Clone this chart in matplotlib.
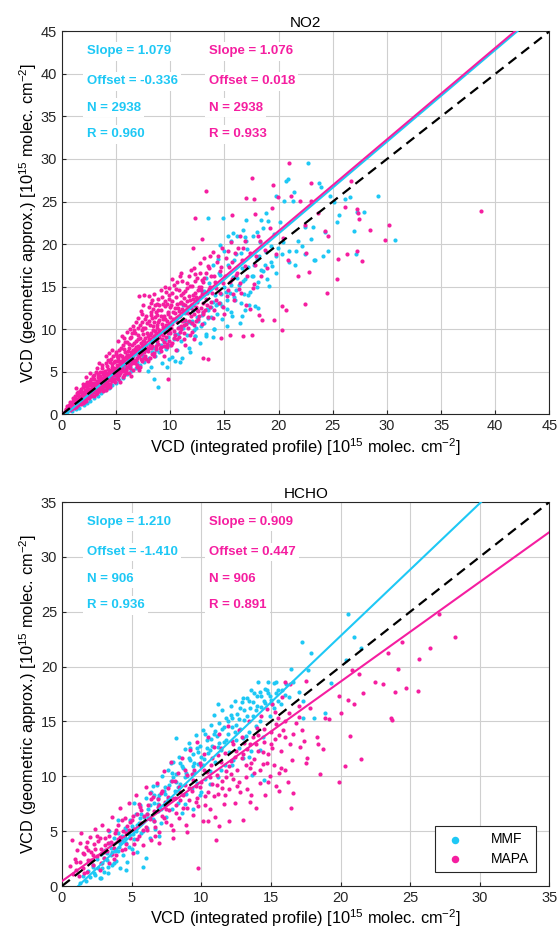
import matplotlib
matplotlib.use("Agg")
import matplotlib.pyplot as plt

plt.rcParams['font.family'] = ['Liberation Sans', 'DejaVu Sans']
plt.rcParams['mathtext.fontset'] = 'custom'
plt.rcParams['mathtext.rm'] = 'Liberation Sans'
plt.rcParams['mathtext.it'] = 'Liberation Sans:italic'
plt.rcParams['mathtext.bf'] = 'Liberation Sans:bold'

CYAN = '#1ec8f5'
MAGENTA = '#f51ea0'

# ---- NO2 panel ----
no2_mmf = [
    (0.5, 0.3), (0.7, 0.6), (0.9, 0.4), (1.1, 0.9), (1.3, 0.6), (1.5, 1.2), (1.6, 0.8), (1.8, 1.4), (2.0, 1.1),
    (2.1, 1.8), (2.3, 1.3), (2.5, 2.0), (2.6, 1.6), (2.8, 2.4), (3.0, 1.9), (3.1, 2.8), (3.3, 2.2), (3.5, 3.1),
    (3.6, 2.5), (3.8, 3.4), (4.0, 2.8), (4.1, 3.8), (4.3, 3.1), (4.5, 4.2), (4.6, 3.4), (4.8, 4.5), (5.0, 3.7),
    (5.1, 4.9), (5.3, 4.0), (5.5, 5.3), (5.6, 4.3), (5.8, 5.6), (6.0, 4.7), (6.2, 6.0), (6.4, 5.1), (6.6, 6.4),
    (6.8, 5.4), (7.0, 6.8), (7.2, 5.8), (7.4, 7.2), (7.6, 6.2), (7.8, 7.5), (8.0, 6.6), (8.2, 5.6), (8.4, 7.8),
    (8.6, 6.9), (8.8, 8.3), (9.0, 7.3), (9.2, 6.0), (9.4, 8.6), (9.6, 7.7), (9.8, 9.1), (10.0, 8.1),
    (1.5, 1.5), (2.5, 2.6), (3.5, 3.7), (4.5, 4.8), (5.5, 5.9), (6.5, 7.0), (7.5, 8.1), (8.5, 9.2), (9.5, 10.2),
    (10.5, 11.2), (11.5, 12.3),
    (10.2, 6.7), (10.4, 9.4), (10.6, 7.5), (10.8, 10.3), (11.0, 8.6), (11.1, 6.6), (11.3, 11.0), (11.5, 9.3),
    (11.7, 7.8), (11.9, 10.7), (12.1, 12.2), (12.3, 9.2), (12.5, 11.4), (12.6, 13.6), (12.8, 10.4), (13.0, 12.0),
    (13.1, 14.5), (13.3, 9.4), (13.5, 11.3), (13.6, 15.4), (13.8, 12.6), (14.0, 10.0), (14.1, 14.0), (14.3, 11.8),
    (14.5, 16.6), (14.6, 13.1), (14.8, 11.2), (15.0, 15.0), (15.2, 12.4), (15.3, 17.6), (15.5, 14.2), (15.7, 11.6),
    (15.8, 16.1), (16.0, 13.4), (16.1, 18.8), (16.3, 15.2), (16.4, 10.7), (16.6, 17.2), (16.8, 14.1), (16.9, 20.8),
    (17.1, 19.4), (17.3, 12.9), (17.5, 16.3), (17.6, 21.0), (17.8, 12.7), (18.0, 18.3), (18.1, 15.6), (18.3, 20.2),
    (18.4, 22.8), (18.6, 16.8), (18.8, 19.1), (19.0, 22.7), (19.1, 15.1), (19.3, 17.9), (19.6, 21.2), (19.8, 18.6),
    (20.1, 22.6), (20.5, 25.1), (20.7, 27.4), (20.9, 27.7), (21.0, 19.2), (21.3, 25.1), (21.4, 26.1), (21.5, 17.6),
    (21.8, 20.4), (22.2, 19.8), (22.4, 22.0), (22.7, 29.5), (23.2, 22.05), (23.3, 18.15), (23.4, 18.1), (23.7, 27.2),
    (23.95, 26.7), (24.1, 18.65), (24.3, 21.4), (24.55, 19.2), (24.7, 25.6), (25.1, 25.0), (25.4, 22.55),
    (25.6, 23.4), (26.1, 25.25), (26.6, 25.5), (27.0, 21.5), (27.1, 18.8), (27.25, 23.8), (27.85, 23.8),
    (29.2, 25.7), (30.7, 20.45),
    (8.5, 4.1), (8.85, 3.2), (10.4, 6.25), (11.4, 11.9), (18.1, 12.5), (13.45, 23.1), (14.9, 23.1), (15.8, 21.3),
    (17.0, 22.8), (18.85, 23.6), (19.75, 25.7), (14.0, 10.0), (13.3, 9.2), (12.3, 9.2), (15.9, 13.8), (16.6, 11.6),
    (3.2, 2.6), (3.9, 3.1), (4.4, 3.5), (5.2, 4.5), (5.9, 5.0), (6.3, 5.6), (6.9, 6.2), (7.5, 6.8), (7.9, 5.1),
    (8.3, 7.3), (8.7, 7.6), (9.1, 8.1), (9.5, 8.7), (9.9, 6.5), (10.3, 8.8), (10.7, 9.4), (11.2, 10.1),
    (11.6, 10.8), (12.0, 11.0), (12.4, 10.2), (12.9, 11.7), (13.4, 12.4), (13.9, 13.2), (14.2, 12.9),
    (14.7, 14.1), (15.1, 14.4), (15.6, 15.2), (16.2, 16.0), (16.7, 15.7), (17.2, 17.3), (17.7, 17.6),
    (18.2, 18.6), (18.7, 17.6), (19.3, 19.8), (19.9, 19.5), (20.4, 20.3), (13.9, 17.6), (14.4, 18.3),
    (15.0, 19.2), (15.6, 20.4), (16.2, 20.9), (16.7, 21.6), (14.6, 19.9), (15.3, 21.0), (12.7, 8.4),
    (11.8, 7.3), (10.9, 6.2), (9.7, 5.6), (13.9, 9.1), (15.2, 10.4), (16.9, 12.2), (17.4, 14.4),
    (12.2, 9.9), (12.6, 11.0), (13.1, 10.7), (13.5, 12.2), (13.8, 11.4), (14.3, 13.0), (14.8, 12.7), (15.2, 13.4),
    (15.6, 12.0), (16.1, 14.6), (16.5, 13.1), (16.9, 15.9), (17.2, 14.0), (17.6, 16.2), (18.0, 15.0), (18.4, 17.0),
    (18.9, 15.9), (19.4, 17.4), (19.8, 16.6), (20.3, 18.8), (21.0, 17.9), (21.6, 19.2), (22.4, 18.8), (23.0, 20.6),
    (11.2, 12.9), (12.9, 14.5), (13.3, 16.0), (14.6, 16.4), (15.9, 18.1), (16.5, 19.0), (17.0, 20.4), (18.0, 21.4),
    (18.6, 21.9),
]

no2_mapa = [
    (0.4, 0.6), (0.6, 0.9), (0.7, 0.5), (0.8, 1.3), (0.9, 0.8), (1.0, 1.6), (1.1, 1.0), (1.2, 2.1), (1.2, 1.4),
    (1.3, 0.9), (1.4, 1.8), (1.5, 2.6), (1.5, 1.2), (1.6, 2.2), (1.7, 1.5), (1.8, 3.0), (1.8, 2.0), (1.9, 1.3),
    (2.0, 2.6), (2.0, 1.7), (2.1, 3.3), (2.1, 2.2), (2.2, 1.6), (2.3, 2.9), (2.3, 3.8), (2.4, 2.4), (2.5, 1.9),
    (2.5, 3.4), (2.6, 2.8), (2.7, 4.2), (2.7, 2.2), (2.8, 3.1), (2.9, 3.7), (2.9, 2.6), (3.0, 4.6), (3.0, 3.2),
    (3.1, 2.4), (3.2, 3.9), (3.2, 2.9), (3.3, 4.4), (3.3, 3.4), (3.4, 2.7), (3.5, 5.0), (3.5, 3.8), (3.6, 3.0),
    (3.6, 4.3), (3.7, 3.5), (3.7, 5.4), (3.8, 2.9), (3.8, 4.7), (3.9, 4.0), (3.9, 3.3), (4.0, 5.1), (4.0, 3.7),
    (4.1, 4.4), (4.1, 2.9), (4.2, 5.7), (4.2, 3.4), (4.3, 4.8), (4.3, 4.0), (4.4, 6.2), (4.4, 3.6), (4.5, 5.2),
    (4.5, 4.5), (4.6, 3.9), (4.6, 5.9), (4.7, 4.9), (4.7, 6.8), (4.8, 4.2), (4.8, 5.5), (4.9, 3.8), (4.9, 6.3),
    (5.0, 5.0), (5.0, 7.1), (5.1, 4.5), (5.1, 5.8), (5.2, 6.6), (5.2, 4.1), (5.3, 5.3), (5.3, 7.5), (5.4, 6.0),
    (5.4, 4.8), (5.5, 6.9), (5.5, 5.6), (5.6, 4.4), (5.6, 8.1), (5.7, 6.3), (5.7, 5.1), (5.8, 7.3), (5.8, 5.9),
    (5.9, 4.9), (5.9, 6.7), (6.0, 8.5), (6.0, 5.6), (6.1, 7.0), (6.1, 6.2), (6.2, 4.8), (6.2, 7.8), (6.3, 6.6),
    (6.3, 5.5), (6.4, 9.1), (6.4, 7.3), (6.5, 6.0), (6.5, 8.2), (6.6, 6.9), (6.6, 5.2), (6.7, 7.7), (6.7, 9.6),
    (6.8, 6.4), (6.8, 8.6), (6.9, 7.2), (6.9, 5.8), (7.0, 8.0), (7.0, 10.2), (7.1, 6.8), (7.1, 7.6), (7.2, 9.0),
    (7.2, 5.6), (7.3, 8.4), (7.3, 7.1), (7.4, 10.8), (7.4, 6.3), (7.5, 9.4), (7.5, 7.9), (7.6, 14.0), (7.6, 8.6),
    (7.7, 6.9), (7.7, 10.1), (7.8, 8.2), (7.8, 11.5), (7.9, 7.4), (7.9, 9.2), (8.0, 13.9), (8.0, 8.8),
    (8.1, 10.5), (8.1, 6.6), (8.2, 9.6), (8.2, 7.8), (8.3, 11.3), (8.3, 8.5), (8.4, 12.4), (8.4, 9.9), (8.5, 7.2),
    (8.5, 10.9), (8.6, 8.9), (8.6, 12.9), (8.7, 9.5), (8.7, 7.7), (8.8, 11.7), (8.8, 10.2), (8.9, 8.3), (8.9, 13.5),
    (9.0, 9.9), (9.0, 11.1), (9.1, 7.4), (9.1, 12.2), (9.2, 10.6), (9.2, 8.8), (9.3, 9.3), (9.3, 13.0), (9.4, 11.6),
    (9.4, 8.0), (9.5, 10.0), (9.5, 12.7), (9.6, 9.1), (9.6, 14.4), (9.7, 11.0), (9.7, 7.9), (9.8, 12.0), (9.8, 10.3),
    (9.9, 8.6), (9.9, 13.6), (10.0, 11.4), (10.0, 9.6), (10.1, 12.8), (10.2, 10.6), (10.2, 8.4), (10.3, 15.2),
    (10.4, 11.9), (10.4, 9.3), (10.5, 13.8), (10.6, 10.9), (10.7, 12.5), (10.8, 9.1), (10.8, 14.6), (10.9, 11.6),
    (11.0, 13.2), (11.0, 10.0), (11.1, 15.7), (11.2, 12.0), (11.3, 8.9), (11.3, 13.7), (11.4, 11.1), (11.5, 14.8),
    (11.6, 12.6), (11.6, 10.2), (11.7, 16.3), (11.8, 13.4), (11.9, 11.5), (12.0, 15.1), (12.0, 9.7), (12.1, 12.9),
    (12.2, 17.2), (12.3, 14.2), (12.4, 11.0), (12.5, 13.6), (12.5, 16.0), (12.6, 12.1), (12.7, 17.8), (12.8, 14.6),
    (12.9, 10.6), (13.0, 15.5), (13.0, 13.1), (13.1, 18.4), (13.2, 12.2), (13.3, 16.6), (13.4, 14.3), (13.5, 11.4),
    (13.6, 17.2), (13.7, 15.0), (13.8, 13.2), (13.9, 19.1), (14.0, 16.2), (14.0, 12.3), (14.2, 14.8), (14.3, 17.9),
    (14.5, 13.1), (14.6, 16.8), (14.8, 19.6), (14.9, 15.4), (15.0, 11.8), (15.1, 18.4), (15.3, 14.6), (15.4, 17.3),
    (15.6, 20.3), (15.7, 15.9), (15.9, 13.4), (16.0, 18.9), (16.2, 16.6), (16.4, 21.0), (16.5, 14.3), (16.7, 19.6),
    (16.9, 17.4), (17.0, 12.8),
    (3.2, 5.4), (4.1, 6.9), (5.5, 9.2), (6.3, 10.0), (7.3, 12.1), (8.5, 14.1), (9.1, 14.6), (2.2, 4.4), (1.3, 3.1),
    (0.35, 0.45), (0.55, 0.75), (0.65, 1.15), (0.85, 0.65), (0.95, 1.35), (1.05, 1.9), (1.15, 0.75), (1.25, 1.65),
    (1.35, 2.45), (1.45, 1.05), (1.55, 1.95), (1.65, 2.75), (1.75, 1.25), (1.85, 2.35), (1.95, 3.25), (2.05, 1.45),
    (2.15, 2.65), (2.25, 3.55), (2.35, 1.95), (2.45, 2.95), (2.55, 3.95), (2.65, 2.45), (2.75, 3.35), (2.85, 4.55),
    (2.95, 2.15), (3.05, 3.65), (3.15, 4.95), (3.25, 2.55), (3.35, 3.05), (3.45, 4.15), (3.55, 3.35), (3.65, 5.75),
    (3.75, 2.75), (3.85, 4.45), (3.95, 3.75), (4.05, 6.05), (4.15, 3.15), (4.25, 5.35), (4.35, 4.45), (4.45, 3.25),
    (4.55, 6.55), (4.65, 4.15), (4.75, 5.25), (4.85, 4.75), (4.95, 7.35), (5.05, 4.25), (5.15, 6.25), (5.25, 5.05),
    (5.35, 3.85), (5.45, 7.85), (5.55, 5.05), (5.65, 6.65), (5.75, 4.65), (5.85, 8.45), (5.95, 5.35), (6.05, 7.45),
    (6.15, 5.85), (6.25, 8.95), (6.35, 4.55), (6.45, 6.35), (6.55, 7.55), (6.65, 9.95), (6.75, 6.05), (6.85, 7.95),
    (6.95, 6.65), (7.05, 9.35), (7.15, 5.25), (7.25, 7.35), (7.35, 9.85), (7.45, 8.65), (7.55, 6.65), (7.65, 11.25),
    (7.75, 7.65), (7.85, 9.55), (7.95, 6.25), (8.05, 10.95), (8.15, 8.15), (8.25, 12.05), (8.35, 7.05), (8.45, 9.25),
    (8.55, 11.45), (8.65, 8.05), (8.75, 10.55), (8.85, 12.25), (8.95, 9.05), (9.05, 7.85), (9.15, 11.55),
    (9.25, 13.75), (9.35, 10.25), (9.45, 8.45), (9.55, 11.25), (9.65, 12.95), (9.75, 9.55), (9.85, 14.05),
    (9.95, 10.65), (10.05, 8.15), (10.15, 13.35), (10.25, 11.15), (10.35, 9.75), (10.45, 12.45), (10.55, 14.75),
    (10.65, 8.85), (10.75, 11.45), (10.85, 13.05), (10.95, 10.35), (11.05, 12.35), (11.15, 14.25), (11.25, 9.55),
    (11.35, 12.85), (11.45, 10.65), (11.55, 15.45), (11.65, 11.95), (11.75, 13.95), (11.85, 9.35), (11.95, 12.45),
    (12.05, 14.05), (12.15, 10.45), (12.25, 15.65), (12.35, 12.65), (12.45, 13.15), (12.55, 11.25), (12.65, 14.95),
    (12.75, 16.55), (12.85, 12.45), (12.95, 14.15), (13.05, 11.75), (13.15, 16.05), (13.25, 13.55), (13.35, 12.85),
    (13.45, 17.45), (13.55, 14.75), (13.65, 12.65), (13.75, 16.25), (13.85, 14.25), (13.95, 11.35), (14.1, 15.6),
    (14.25, 13.4), (14.4, 18.6), (14.55, 14.2), (14.7, 17.3), (14.85, 12.6), (15.05, 16.2), (15.2, 13.9),
    (15.35, 19.2), (15.5, 15.6), (15.65, 17.9), (15.8, 14.1), (16.05, 16.4), (16.25, 19.5), (16.45, 15.4),
    (16.6, 18.1), (16.85, 20.4), (17.1, 16.2), (17.35, 19.0), (17.6, 14.8), (17.85, 17.6), (18.1, 20.9),
    (18.4, 16.3), (18.7, 19.3), (7.0, 11.3), (7.5, 12.8), (8.2, 13.1), (6.0, 9.7), (5.2, 8.6), (4.6, 7.6),
    (9.4, 6.9), (10.5, 7.6), (11.4, 8.2), (12.2, 8.9), (12.8, 15.0), (1.9, 3.6), (2.6, 4.9), (3.4, 6.0),
    (4.3, 7.2), (6.8, 10.9), (7.1, 13.9), (8.3, 13.4), (10.9, 16.2), (11.9, 17.0),
    (0.45, 0.95), (0.75, 1.45), (1.02, 1.22), (1.18, 1.78), (1.38, 1.38), (1.52, 2.22), (1.62, 1.62), (1.78, 2.62),
    (1.92, 1.92), (2.08, 2.88), (2.18, 2.02), (2.32, 3.22), (2.42, 2.62), (2.58, 3.62), (2.68, 3.02), (2.82, 2.72),
    (2.92, 4.12), (3.08, 3.42), (3.18, 2.82), (3.28, 4.72), (3.42, 3.62), (3.52, 4.52), (3.62, 3.92), (3.72, 3.12),
    (3.82, 5.02), (3.92, 4.32), (4.08, 4.82), (4.18, 3.82), (4.28, 6.42), (4.38, 5.02), (4.48, 4.02), (4.58, 5.52),
    (4.68, 4.62), (4.78, 6.12), (4.88, 5.32), (4.98, 4.62), (5.08, 6.82), (5.18, 5.42), (5.28, 4.62), (5.38, 7.02),
    (5.48, 6.22), (5.58, 5.32), (5.68, 7.62), (5.78, 6.02), (5.88, 5.22), (5.98, 7.02), (6.08, 6.52), (6.18, 8.32),
    (6.28, 5.82), (6.38, 7.02), (6.48, 9.52), (6.58, 6.42), (6.68, 8.42), (6.78, 7.22), (6.88, 5.52), (6.98, 8.82),
    (7.08, 7.42), (7.18, 10.52), (7.28, 6.52), (7.38, 8.02), (7.48, 10.12), (7.58, 7.32), (7.68, 9.02), (7.78, 6.52),
    (7.88, 10.72), (7.98, 7.82), (8.08, 9.32), (8.18, 11.72), (8.28, 8.02), (8.38, 10.42), (8.48, 6.82),
    (8.58, 9.82), (8.68, 12.02), (8.78, 8.62), (8.88, 10.82), (8.98, 12.82), (9.08, 9.42), (9.18, 7.92),
    (9.28, 11.22), (9.38, 9.72), (9.48, 13.32), (9.58, 10.52), (9.68, 8.32), (9.78, 11.82), (9.88, 9.82),
    (9.98, 12.62), (10.08, 10.12), (10.18, 14.22), (10.28, 12.02), (10.38, 8.92), (10.48, 11.32), (10.58, 13.02),
    (10.68, 10.12), (10.78, 12.12), (10.88, 9.62), (10.98, 14.02), (11.08, 11.02), (11.18, 13.02), (11.28, 10.52),
    (11.38, 14.52), (11.48, 12.02), (11.58, 13.32), (11.68, 10.92), (11.78, 15.02), (11.88, 12.82), (11.98, 10.72),
    (12.08, 13.52), (12.18, 11.82), (12.28, 16.52), (12.38, 13.82), (12.48, 12.22), (12.58, 14.62), (12.68, 11.52),
    (12.78, 13.82), (12.88, 15.82), (12.98, 12.02), (5.7, 9.0), (6.6, 10.4), (7.4, 11.8), (8.0, 12.6),
    (8.8, 13.0), (9.5, 15.0), (10.2, 15.9), (11.0, 16.6), (10.6, 15.5), (9.9, 14.9),
    (38.65, 23.85), (30.2, 22.2), (29.8, 20.5), (27.25, 19.2), (27.7, 18.0), (25.4, 15.9), (24.45, 14.3),
    (26.3, 18.8), (25.5, 18.3), (28.4, 21.6), (27.4, 23.0), (27.35, 23.6), (27.25, 24.1), (26.1, 24.35),
    (26.7, 27.4), (21.0, 29.5), (23.0, 27.2), (19.5, 26.9), (17.5, 27.8), (13.3, 26.2), (12.3, 23.1), (19.9, 25.5),
    (21.1, 25.7), (21.95, 25.1), (22.95, 25.05), (23.6, 23.6), (24.6, 20.9), (24.3, 21.5), (22.4, 22.2),
    (22.5, 19.0), (19.8, 18.8), (21.8, 16.2), (22.8, 16.7), (22.4, 13.0), (20.65, 12.3), (20.3, 12.75),
    (19.6, 11.1), (18.5, 11.1), (17.35, 12.4), (20.3, 9.9), (17.5, 9.3), (16.75, 9.2), (14.7, 9.0), (13.05, 6.6),
    (13.45, 6.45), (9.75, 4.1), (15.5, 9.3), (18.2, 11.7), (16.35, 14.7), (17.75, 15.3), (15.7, 23.4),
    (17.8, 23.5), (17.7, 25.3), (17.0, 25.4), (19.4, 24.2), (12.9, 20.6), (12.05, 19.55), (13.7, 18.65),
    (18.3, 20.4), (19.2, 21.9), (20.4, 20.7), (18.9, 17.2), (17.9, 18.6), (20.9, 18.1),
]

# ---- HCHO panel ----
hcho_mmf = [
    (1.3, 0.3), (1.5, 0.9), (1.7, 0.5), (1.9, 1.4), (2.0, 0.8), (2.2, 1.9), (2.3, 1.2), (2.5, 2.5), (2.6, 1.6),
    (2.7, 0.7), (2.8, 2.9), (2.9, 2.1), (3.0, 1.3), (3.1, 3.3), (3.2, 2.4), (3.3, 1.7), (3.4, 3.9), (3.5, 2.8),
    (3.6, 1.9), (3.7, 4.4), (3.8, 3.2), (3.9, 2.3), (4.0, 4.8), (4.1, 3.6), (4.2, 1.6),
    (4.3, 4.2), (4.4, 2.8), (4.5, 5.3), (4.6, 3.9), (4.7, 2.2), (4.8, 4.7), (4.9, 6.0), (5.0, 3.4), (5.1, 5.2),
    (5.2, 4.3), (5.3, 6.6), (5.4, 3.1), (5.5, 5.7), (5.6, 7.4), (5.7, 4.8), (5.8, 1.75), (5.9, 6.3), (6.0, 8.0),
    (6.1, 5.3), (6.2, 7.0), (6.3, 4.4), (6.4, 8.6), (6.5, 6.1), (6.6, 7.6), (6.7, 5.2), (6.8, 9.2), (6.9, 6.8),
    (7.0, 8.3), (7.1, 5.7), (7.2, 10.0), (7.3, 7.4), (7.4, 9.0), (7.5, 6.3), (7.6, 10.6), (7.7, 8.0), (7.8, 9.6),
    (7.9, 7.0), (8.0, 11.3), (8.1, 8.7), (8.15, 13.5), (8.2, 10.2), (8.3, 7.6), (8.4, 11.8), (8.5, 9.3), (8.6, 6.7),
    (8.7, 10.8), (8.8, 12.5), (8.9, 8.4), (9.0, 10.0), (9.1, 13.0), (9.2, 11.5), (9.3, 8.9), (9.4, 12.0),
    (9.5, 10.4), (9.6, 13.8), (9.7, 9.4), (9.8, 11.1), (9.9, 12.8), (10.0, 8.6),
    (10.1, 14.2), (10.2, 11.6), (10.3, 9.8), (10.4, 13.3), (10.5, 12.1), (10.6, 10.5), (10.7, 14.7), (10.8, 12.8),
    (10.9, 15.6), (11.0, 11.3), (11.1, 13.7), (11.2, 9.9), (11.3, 14.9), (11.4, 12.4), (11.5, 16.0), (11.6, 13.1),
    (11.7, 11.0), (11.8, 15.3), (11.9, 13.9), (12.0, 12.2), (12.1, 16.4), (12.2, 14.5), (12.3, 11.5), (12.4, 16.9),
    (12.5, 13.3), (12.6, 15.7), (12.7, 12.6), (12.8, 14.3), (12.9, 16.8), (13.0, 13.5),
    (13.1, 15.1), (13.2, 13.65), (13.3, 17.1), (13.4, 14.0), (13.5, 16.2), (13.6, 12.3), (13.65, 10.1),
    (13.7, 15.5), (13.8, 17.6), (13.9, 14.6), (14.0, 16.4), (14.1, 18.6), (14.2, 15.0), (14.3, 17.3), (14.4, 13.6),
    (14.5, 9.65), (14.6, 16.7), (14.7, 17.9), (14.8, 18.6), (14.9, 15.5), (15.0, 17.0), (15.2, 16.2), (15.4, 17.6),
    (15.5, 17.85), (15.7, 16.6), (16.05, 18.45), (16.3, 17.2), (16.45, 19.8),
    (17.0, 17.7), (17.2, 22.25), (17.3, 16.9), (17.3, 15.3), (17.65, 19.7), (17.9, 21.2), (18.1, 15.3),
    (18.9, 15.8), (19.3, 18.5), (20.4, 20.6), (20.56, 24.77), (21.0, 22.7), (21.45, 21.7),
    (2.24, 1.76), (2.8, 0.7), (4.6, 1.45), (3.3, 1.2), (6.0, 2.6), (7.0, 4.6), (9.4, 7.0), (11.2, 16.6),
    (5.2, 7.6), (6.5, 9.1), (7.8, 11.2), (4.0, 6.0), (3.4, 5.0),
    (2.4, 1.0), (2.9, 1.6), (3.2, 3.0), (3.5, 3.5), (3.7, 2.1), (4.0, 3.2), (4.3, 4.6), (4.6, 5.1), (4.8, 3.6),
    (5.1, 4.7), (5.4, 5.6), (5.6, 6.2), (5.8, 5.0), (6.1, 6.6), (6.3, 7.4), (6.6, 5.9), (6.9, 8.0), (7.1, 7.0),
    (7.4, 8.4), (7.7, 9.2), (8.0, 9.9), (8.3, 9.0), (8.6, 10.9), (8.9, 10.3), (9.2, 12.6), (9.5, 11.2),
    (9.8, 12.2), (10.1, 11.0), (10.4, 12.6), (10.7, 13.4), (11.0, 14.1), (11.3, 13.0), (11.6, 14.5),
    (11.9, 15.0), (12.2, 15.3), (12.5, 14.7), (12.8, 16.2), (13.1, 16.0), (13.4, 16.9), (13.7, 16.8),
    (14.0, 17.3), (14.3, 16.3), (14.6, 18.0), (14.9, 17.3), (15.2, 18.5), (15.5, 16.9), (13.0, 11.7),
    (12.2, 11.0), (11.4, 10.6), (10.6, 9.3), (9.9, 8.3), (8.8, 7.5), (15.8, 17.9), (14.2, 12.4), (13.4, 11.8),
    (3.0, 2.6), (3.6, 3.1), (4.2, 3.9), (4.5, 4.4), (5.0, 5.5), (5.3, 5.0), (5.7, 6.6), (6.2, 6.2), (6.6, 8.3),
    (6.9, 7.5), (7.3, 8.7), (7.6, 7.9), (7.9, 10.3), (8.2, 9.5), (8.5, 11.2), (8.8, 9.9), (9.1, 11.7),
    (9.4, 10.9), (9.7, 12.6), (10.0, 11.8), (10.3, 13.9), (10.6, 12.4), (10.9, 13.9), (11.2, 12.7), (11.5, 14.3),
    (11.8, 13.3), (12.1, 15.6), (12.4, 14.0), (12.7, 15.2), (13.0, 17.1), (13.3, 15.5), (13.6, 17.9),
    (13.9, 16.0), (14.2, 17.7), (14.5, 16.9), (14.8, 17.6), (15.1, 16.6), (15.4, 18.6), (16.0, 17.4), (16.6, 18.6),
]

hcho_mapa = [
    (0.6, 1.8), (0.7, 4.2), (0.8, 1.1), (0.9, 2.5), (1.0, 1.5), (1.1, 3.3), (1.2, 0.9), (1.3, 2.2), (1.4, 4.8),
    (1.5, 1.6), (1.6, 2.9), (1.7, 3.6), (1.8, 1.3), (1.9, 2.4), (2.0, 4.5), (2.1, 3.1), (2.2, 1.9), (2.3, 3.8),
    (2.4, 5.2), (2.5, 2.7), (2.6, 4.1), (2.7, 1.5), (2.8, 3.4), (2.9, 5.6), (3.0, 2.6),
    (3.1, 4.4), (3.2, 3.2), (3.3, 5.1), (3.4, 2.1), (3.5, 4.0), (3.6, 6.3), (3.7, 3.5), (3.8, 4.8), (3.9, 2.8),
    (4.0, 5.6), (4.1, 4.2), (4.2, 7.1), (4.3, 3.3), (4.4, 5.0), (4.5, 6.2), (4.6, 3.8), (4.7, 5.5), (4.8, 7.6),
    (4.9, 4.4), (5.0, 6.0), (5.1, 3.0), (5.2, 5.2), (5.3, 8.3), (5.4, 6.6), (5.5, 4.6), (5.6, 7.2), (5.7, 5.7),
    (5.8, 3.7), (5.9, 6.4), (6.0, 9.0),
    (6.1, 5.1), (6.2, 7.4), (6.3, 6.1), (6.4, 4.2), (6.5, 8.1), (6.6, 6.8), (6.7, 5.4), (6.8, 9.4), (6.9, 7.2),
    (7.0, 4.9), (7.1, 8.5), (7.2, 6.4), (7.3, 10.5), (7.4, 7.7), (7.5, 5.8), (7.6, 8.9), (7.7, 6.9), (7.8, 11.3),
    (7.9, 8.0), (8.0, 5.1), (8.1, 9.6), (8.2, 7.4), (8.3, 10.3), (8.4, 6.2), (8.5, 8.6), (8.6, 11.7), (8.7, 7.1),
    (8.8, 9.2), (8.9, 5.6), (9.0, 10.1),
    (9.1, 7.8), (9.2, 12.4), (9.3, 8.7), (9.4, 6.5), (9.5, 10.6), (9.6, 9.1), (9.7, 13.1), (9.75, 1.6), (9.8, 7.3),
    (9.9, 11.2), (10.0, 9.5), (10.1, 5.9), (10.2, 12.0), (10.3, 8.2), (10.4, 10.4), (10.5, 13.6), (10.6, 7.0),
    (10.7, 11.0), (10.8, 9.3), (10.9, 12.7), (11.0, 6.3), (11.05, 4.2), (11.1, 10.1), (11.2, 8.4), (11.3, 13.9),
    (11.4, 11.3), (11.5, 9.6), (11.6, 7.5), (11.7, 12.1), (11.8, 10.5), (11.9, 14.6), (12.0, 8.8),
    (12.1, 11.4), (12.2, 13.2), (12.3, 9.8), (12.4, 7.6), (12.5, 12.3), (12.6, 10.6), (12.7, 14.2), (12.8, 8.6),
    (12.9, 11.7), (13.0, 6.0), (13.1, 13.0), (13.2, 9.9), (13.3, 12.5), (13.4, 15.0), (13.5, 10.8), (13.6, 8.3),
    (13.7, 13.6), (13.8, 11.6), (13.9, 7.1), (14.0, 14.4), (14.1, 12.3), (14.2, 9.4), (14.3, 15.5), (14.4, 11.1),
    (14.5, 13.1), (14.6, 8.3), (14.7, 16.1), (14.8, 12.0), (14.9, 10.0), (15.0, 14.0),
    (15.1, 16.6), (15.2, 11.0), (15.3, 13.4), (15.4, 9.1), (15.5, 15.3), (15.55, 10.3), (15.55, 8.65),
    (15.7, 12.3), (15.8, 17.2), (15.9, 14.2), (16.0, 10.6), (16.2, 9.5), (16.3, 15.8), (16.4, 12.95),
    (16.45, 7.15), (16.6, 8.45), (16.8, 14.9), (17.0, 16.4), (17.1, 12.7), (17.2, 14.2), (17.5, 18.65),
    (17.55, 11.2), (17.6, 11.7), (17.8, 16.2), (18.3, 13.6), (18.4, 12.9), (18.5, 10.2), (18.75, 12.5),
    (18.85, 15.3), (19.15, 15.2), (16.0, 18.6), (16.4, 18.4),
    (1.0, 2.2), (1.3, 3.9), (1.6, 1.2), (1.9, 3.3), (2.2, 2.8), (2.5, 4.6), (2.8, 2.1), (3.1, 3.7), (3.4, 4.6),
    (3.7, 2.5), (4.0, 4.3), (4.3, 6.0), (4.6, 4.8), (4.9, 5.8), (5.2, 3.8), (5.5, 7.5), (5.8, 5.1), (6.1, 6.6),
    (6.4, 7.9), (6.7, 4.6), (7.0, 7.4), (7.3, 6.2), (7.6, 8.1), (7.9, 9.6), (8.2, 6.7), (8.5, 7.8), (8.8, 10.6),
    (9.1, 8.9), (9.4, 9.7), (9.7, 8.0), (10.0, 10.9), (10.3, 7.4), (10.6, 9.9), (10.9, 8.2), (11.2, 11.9),
    (11.5, 8.9), (11.8, 9.9), (12.1, 10.2), (12.4, 11.8), (12.7, 9.5), (13.0, 12.0), (13.3, 8.8), (13.6, 11.2),
    (13.9, 12.9), (14.2, 10.6), (14.5, 14.3), (14.8, 9.5), (15.1, 12.6), (15.4, 14.8), (15.7, 10.8), (16.0, 13.6),
    (16.5, 11.5), (17.0, 15.4), (17.4, 13.2), (12.0, 5.9), (13.5, 7.7), (11.3, 5.5), (10.5, 5.9), (9.0, 4.9),
    (8.0, 4.4), (7.0, 3.9),
    (1.5, 3.0), (1.8, 4.0), (2.1, 2.4), (2.4, 3.4), (2.7, 4.4), (3.0, 3.1), (3.3, 3.9), (3.6, 2.9), (3.9, 5.1),
    (4.2, 4.5), (4.5, 3.4), (4.8, 5.1), (5.1, 6.4), (5.4, 4.3), (5.7, 6.9), (6.0, 5.4), (6.3, 8.5), (6.6, 5.9),
    (6.9, 7.9), (7.2, 8.7), (7.5, 7.0), (7.8, 5.6), (8.1, 8.0), (8.4, 9.0), (8.7, 8.3), (9.0, 7.1), (9.3, 10.2),
    (9.6, 7.7), (9.9, 9.0), (10.2, 10.6), (10.5, 8.6), (10.8, 11.7), (11.1, 9.2), (11.4, 12.6), (11.7, 8.3),
    (12.0, 10.9), (12.3, 12.9), (12.6, 9.1), (12.9, 13.6), (13.2, 11.0), (13.5, 12.9), (13.8, 10.3), (14.1, 13.8),
    (14.4, 12.2), (14.7, 11.2), (15.0, 12.9), (15.3, 15.9), (15.6, 13.8), (16.0, 15.0), (16.6, 13.9),
    (19.9, 17.3), (19.9, 9.5), (20.05, 15.8), (20.3, 10.9), (20.55, 17.0), (20.7, 13.7), (20.8, 19.7),
    (21.0, 16.6), (21.3, 19.35), (21.5, 11.55), (21.6, 17.6), (22.45, 18.6), (23.05, 18.45), (23.4, 21.2),
    (23.65, 15.3), (23.7, 15.1), (23.9, 17.7), (24.1, 19.8), (24.4, 22.25), (24.7, 18.05), (25.55, 17.8),
    (25.6, 20.7), (26.4, 21.7), (27.06, 24.77), (28.2, 22.7),
]

# fit results (from the chart annotations)
no2_fit = {'mmf': (1.079, -0.336, 2938, 0.960), 'mapa': (1.076, 0.018, 2938, 0.933)}
hcho_fit = {'mmf': (1.210, -1.410, 906, 0.936), 'mapa': (0.909, 0.447, 906, 0.891)}

xlab = r'VCD (integrated profile) [10$^{15}$ molec. cm$^{-2}$]'
ylab = r'VCD (geometric approx.) [10$^{15}$ molec. cm$^{-2}$]'


def panel(ax, mmf, mapa, fit, lim, title, legend=False):
    ax.scatter([p[0] for p in mmf], [p[1] for p in mmf], s=9, c=CYAN, linewidths=0, zorder=2, label='MMF')
    ax.scatter([p[0] for p in mapa], [p[1] for p in mapa], s=9, c=MAGENTA, linewidths=0, zorder=3, label='MAPA')
    xs = [0, lim]
    sl, off = fit['mmf'][:2]
    ax.plot(xs, [sl * x + off for x in xs], color=CYAN, lw=1.5, zorder=4)
    sl, off = fit['mapa'][:2]
    ax.plot(xs, [sl * x + off for x in xs], color=MAGENTA, lw=1.5, zorder=4)
    ax.plot(xs, xs, color='black', lw=1.6, dashes=(4.5, 2.8), zorder=5)

    ax.set_xlim(0, lim)
    ax.set_ylim(0, lim)
    ax.set_xticks(range(0, lim + 1, 5))
    ax.set_yticks(range(0, lim + 1, 5))
    ax.grid(True, color='#cfcfcf', lw=0.8)
    ax.set_axisbelow(True)
    ax.tick_params(direction='in', length=3, labelsize=10.5, colors='#262626', labelcolor='#262626')
    for sp in ax.spines.values():
        sp.set_color('#262626')
        sp.set_linewidth(0.8)
    ax.set_title(title, fontsize=11, pad=3)
    ax.set_xlabel(xlab, fontsize=11.8, labelpad=2)
    ax.set_ylabel(ylab, fontsize=11.8, labelpad=1)

    rows = [0.948, 0.870, 0.800, 0.731]
    for key, xpos, col in [('mmf', 0.051, CYAN), ('mapa', 0.301, MAGENTA)]:
        sl, off, n, r = fit[key]
        lines = ['Slope = %.3f' % sl, 'Offset = %.3f' % off, 'N = %d' % n, 'R = %.3f' % r]
        for txt, yy in zip(lines, rows):
            ax.text(xpos, yy, txt, transform=ax.transAxes, color=col, fontsize=9.5, fontweight='bold',
                    va='center', ha='left', zorder=6,
                    bbox=dict(facecolor='white', edgecolor='none', pad=2.5))

    if legend:
        leg = ax.legend(loc='lower right', fontsize=10, markerscale=1.8, fancybox=False,
                        edgecolor='#262626', framealpha=1, borderaxespad=1.0, handletextpad=1.6,
                        borderpad=0.45, labelspacing=0.4)
        leg.get_frame().set_linewidth(0.8)
        leg.set_zorder(7)


fig = plt.figure(figsize=(5.6, 9.38), dpi=100)
ax1 = fig.add_axes([0.1107, 0.5583, 0.8705, 0.4083])
ax2 = fig.add_axes([0.1107, 0.0554, 0.8705, 0.4094])

panel(ax1, no2_mmf, no2_mapa, no2_fit, 45, 'NO2')
panel(ax2, hcho_mmf, hcho_mapa, hcho_fit, 35, 'HCHO', legend=True)

fig.savefig('out.png', dpi=100)
